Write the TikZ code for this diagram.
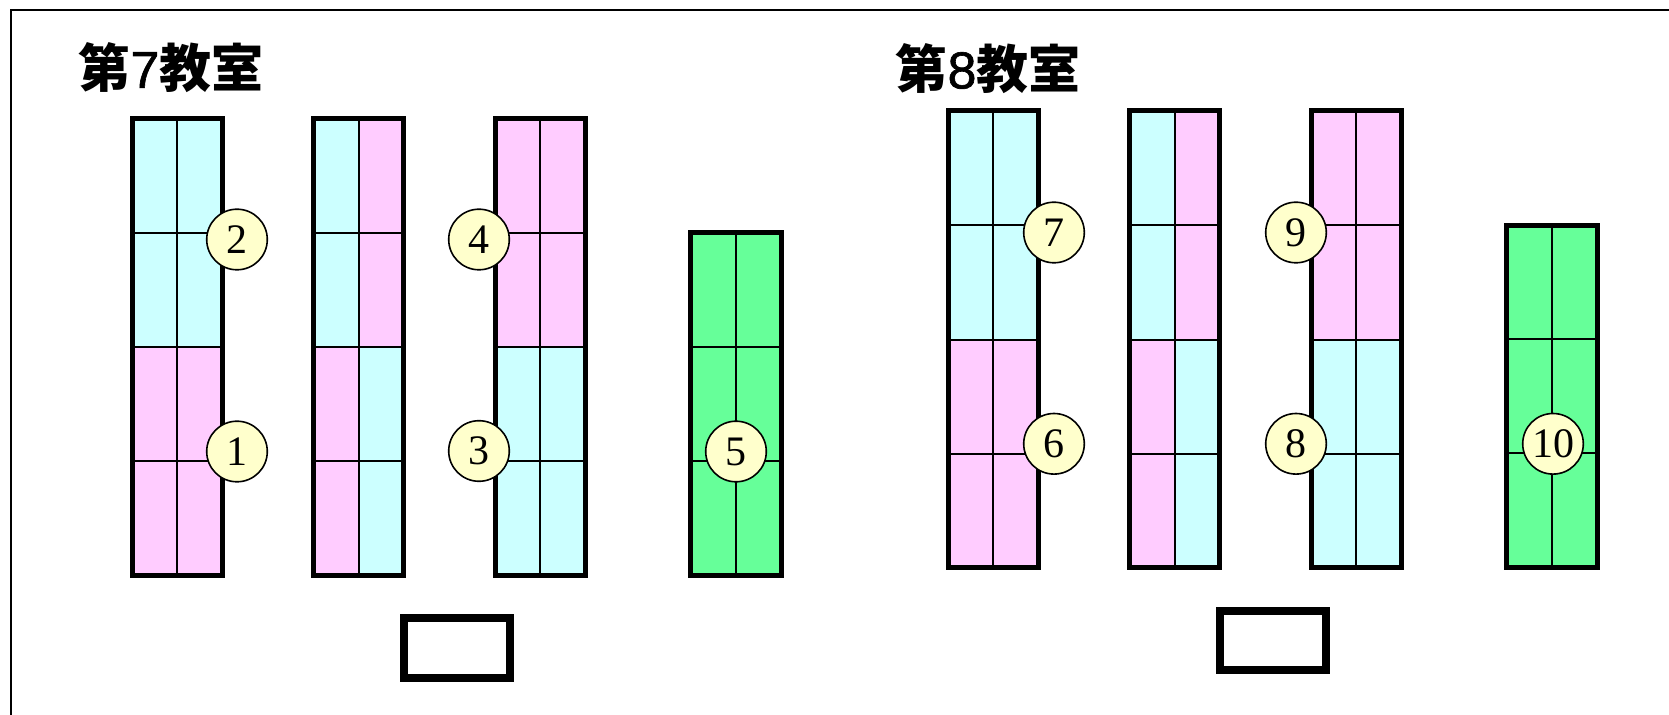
\documentclass[tikz,border=0pt]{standalone}
\usepackage{fontspec}
\setmainfont{Liberation Serif}
\newfontfamily\cjkfont{Noto Sans CJK JP}
\newfontfamily\latinsans[FakeBold=1.2]{Liberation Sans}
\definecolor{seatcyan}{HTML}{CCFFFF}
\definecolor{seatpink}{HTML}{FFCCFF}
\definecolor{seatgreen}{HTML}{66FF99}
\definecolor{badge}{HTML}{FFFFCC}
\tikzset{
  frameline/.style={line width=1pt,black},
  gridline/.style={line width=1pt,black},
  deskborder/.style={line width=2.5pt,black,line join=miter},
  teacherdesk/.style={line width=4pt,black,fill=white},
  seat/.style={circle,draw=black,line width=0.8pt,fill=badge,minimum size=30.3pt,inner sep=0pt,
    font=\fontsize{21}{21}\selectfont},
  roomtitle/.style={inner sep=0pt,font=\fontsize{26}{26}\selectfont\bfseries}
}
% x0, y0, top-left, top-right, bottom-left, bottom-right
\newcommand\deskcol[6]{%
  \fill[#3] (#1,#2) rectangle ({#1+45},{#2+228.25});
  \fill[#4] ({#1+45},#2) rectangle ({#1+90},{#2+228.25});
  \fill[#5] (#1,{#2+228.25}) rectangle ({#1+45},{#2+456.5});
  \fill[#6] ({#1+45},{#2+228.25}) rectangle ({#1+90},{#2+456.5});
  \draw[gridline] ({#1+45},#2) -- ({#1+45},{#2+456.5});
  \draw[gridline] (#1,{#2+114.5}) -- ({#1+90},{#2+114.5});
  \draw[gridline] (#1,{#2+228.75}) -- ({#1+90},{#2+228.75});
  \draw[gridline] (#1,{#2+343}) -- ({#1+90},{#2+343});
  \draw[deskborder] (#1,#2) rectangle ({#1+90},{#2+456.5});
}
\newcommand\greencol[2]{%
  \fill[seatgreen] (#1,#2) rectangle ({#1+91},{#2+342});
  \draw[gridline] ({#1+45.5},#2) -- ({#1+45.5},{#2+342});
  \draw[gridline] (#1,{#2+114}) -- ({#1+91},{#2+114});
  \draw[gridline] (#1,{#2+228}) -- ({#1+91},{#2+228});
  \draw[deskborder] (#1,#2) rectangle ({#1+91},{#2+342});
}
\begin{document}
\begin{tikzpicture}[x=0.5pt,y=-0.5pt]
\useasboundingbox (0,0) rectangle (1669,715);
\fill[white] (0,0) rectangle (1669,715);
\draw[frameline] (10.5,715) -- (10.5,10.5) -- (1669,10.5);

% Room 7
\node[roomtitle] (t7) at (171,68) {\cjkfont 第\latinsans\mdseries 7\cjkfont\bfseries 教室};
\deskcol{132}{118.5}{seatcyan}{seatcyan}{seatpink}{seatpink}
\deskcol{313.5}{118.5}{seatcyan}{seatpink}{seatpink}{seatcyan}
\deskcol{495}{118.5}{seatpink}{seatpink}{seatcyan}{seatcyan}
\greencol{690.5}{233}
\draw[teacherdesk] (404,618) rectangle (509.6,677.7);

% Room 8
\node[roomtitle] (t8) at (988,68.5) {\cjkfont 第\latinsans\mdseries 8\cjkfont\bfseries 教室};
\deskcol{948}{111}{seatcyan}{seatcyan}{seatpink}{seatpink}
\deskcol{1129.5}{111}{seatcyan}{seatpink}{seatpink}{seatcyan}
\deskcol{1311}{111}{seatpink}{seatpink}{seatcyan}{seatcyan}
\greencol{1506.5}{225.5}
\draw[teacherdesk] (1220,610.7) rectangle (1326.4,670.3);

% seat numbers
\node[seat] (s1) at (237,451.5) {1};
\node[seat] (s2) at (237,239.5) {2};
\node[seat] (s3) at (479,451) {3};
\node[seat] (s4) at (479,239.5) {4};
\node[seat] (s5) at (736,451.5) {5};
\node[seat] (s6) at (1054,443.8) {6};
\node[seat] (s7) at (1054,232.5) {7};
\node[seat] (s8) at (1296,443.8) {8};
\node[seat] (s9) at (1296,232.5) {9};
\node[seat] (s10) at (1553,443.8) {10};
\end{tikzpicture}
\end{document}
